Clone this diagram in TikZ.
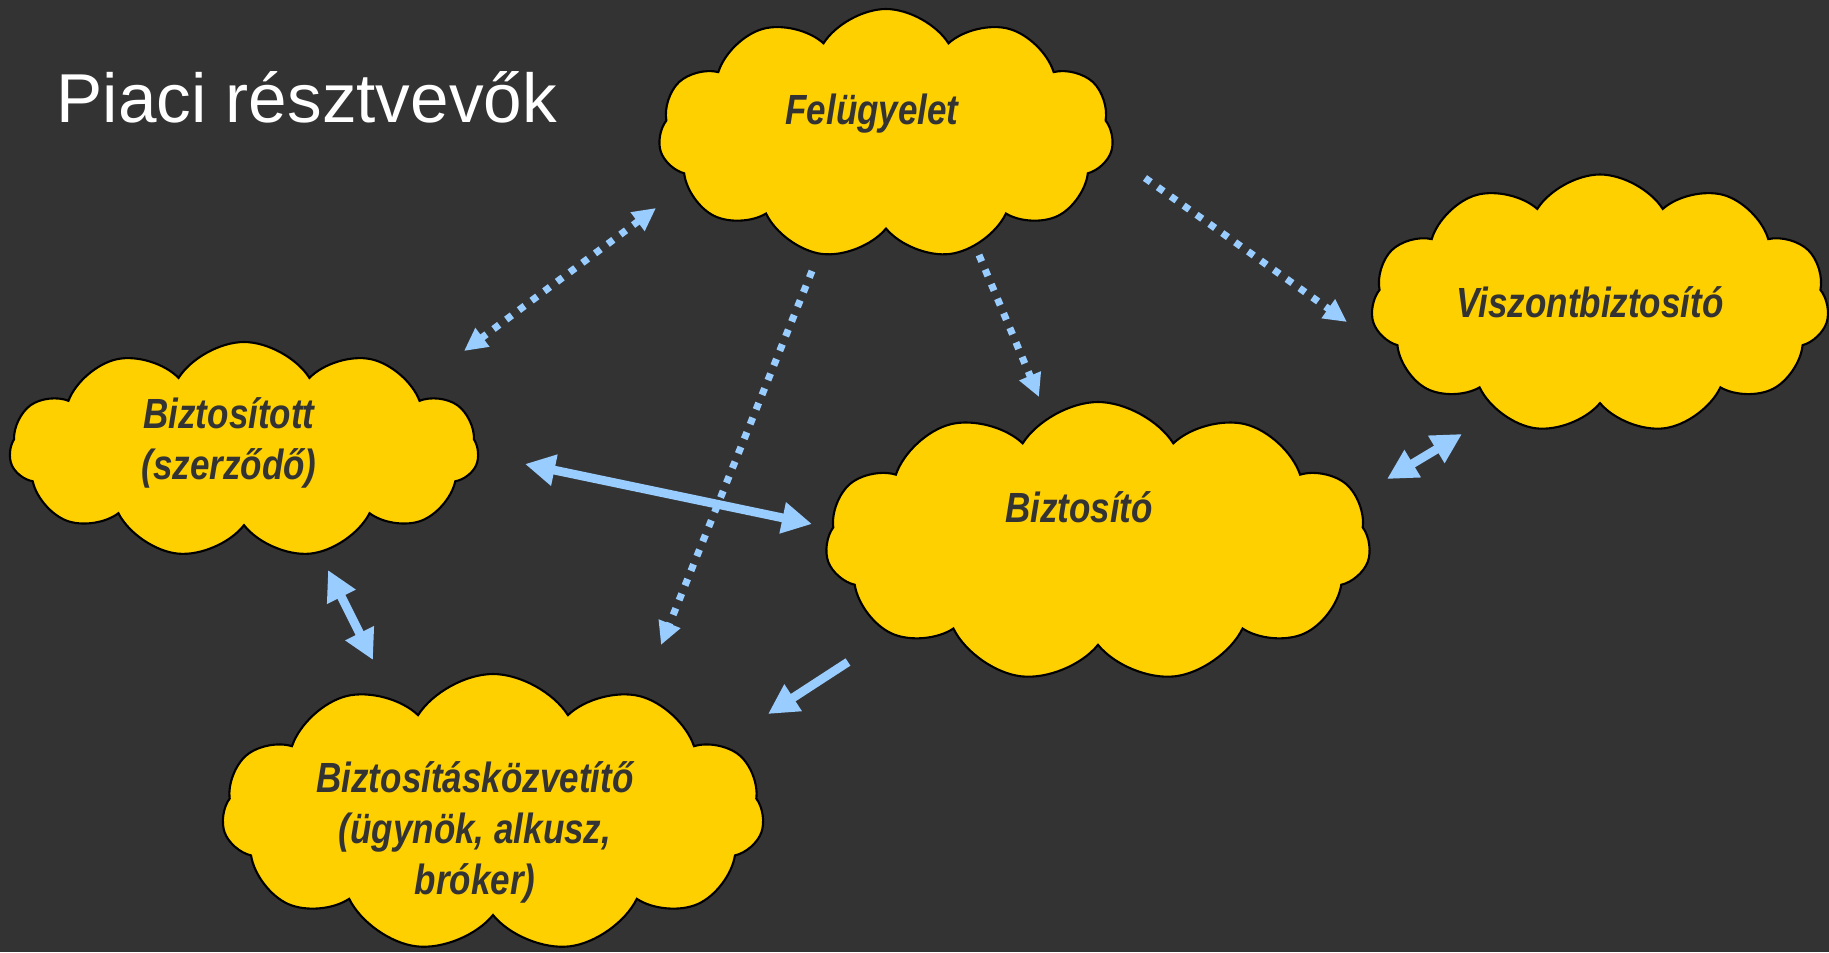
\documentclass[tikz,border=0pt]{standalone}
\usepackage{fontspec}
\setmainfont{Liberation Sans}
\newfontfamily\cloudfont{Liberation Sans}[FakeStretch=0.83]
\usetikzlibrary{shapes.symbols,arrows.meta}
\definecolor{bggray}{HTML}{333333}
\definecolor{cloudgold}{HTML}{FFD000}
\definecolor{arrowblue}{HTML}{99CCFF}
\definecolor{labelgray}{HTML}{333333}
% text that does not change the size of its cloud
\newcommand{\cloudlabel}[3]{\smash{\makebox[0pt]{\hspace*{#1}\raisebox{#2}{\begin{tabular}{@{}c@{}}#3\end{tabular}}}}}

\begin{document}
\begin{tikzpicture}[
  cloudbox/.style={cloud,cloud puffs=11,cloud puff arc=115,draw=black,line width=0.6pt,fill=cloudgold,
    text=labelgray,font=\cloudfont\bfseries\itshape\fontsize{12}{14.5}\selectfont,inner sep=0pt},
  solidarrow/.style={arrowblue,line width=2.5pt,-{Triangle[length=0.3cm,width=0.3cm]}},
  bothsolid/.style={solidarrow,{Triangle[length=0.3cm,width=0.3cm]}-{Triangle[length=0.3cm,width=0.3cm]}},
  dotarrow/.style={arrowblue,line width=2pt,dash pattern=on 2pt off 2.5pt,-{Triangle[length=0.23cm,width=0.22cm]}},
  bothdot/.style={dotarrow,{Triangle[length=0.23cm,width=0.22cm]}-{Triangle[length=0.23cm,width=0.22cm]}}
]
 \fill[bggray] (0,0) rectangle (18.29,-9.52);
 \useasboundingbox (0,0) rectangle (18.29,-9.52);
 \node[anchor=base west,inner sep=0pt,text=white,font=\fontsize{19.7}{24}\selectfont] (title) at (0.56,-1.22) {Piaci résztvevők};
 \node[cloudbox,minimum width=4.55cm,minimum height=2.50cm] (felugyelet) at (8.86,-1.34) {\cloudlabel{-0.28cm}{0.09cm}{Felügyelet}};
 \node[cloudbox,minimum width=4.58cm,minimum height=2.59cm] (viszont) at (16.0,-3.04) {\cloudlabel{-0.2cm}{-0.14cm}{Viszontbiztosító}};
 \node[cloudbox,minimum width=4.69cm,minimum height=2.16cm] (biztositott) at (2.44,-4.50) {\cloudlabel{-0.3cm}{-0.04cm}{Biztosított\\(szerződő)}};
 \node[cloudbox,minimum width=5.45cm,minimum height=2.80cm] (biztosito) at (10.98,-5.42) {\cloudlabel{-0.38cm}{0.19cm}{Biztosító}};
 \node[cloudbox,minimum width=5.42cm,minimum height=2.78cm] (kozvetito) at (4.93,-8.13) {\cloudlabel{-0.36cm}{-0.31cm}{Biztosításközvetítő\\(ügynök, alkusz,\\bróker)}};
 % felugyelet
 \draw[bothdot] ([shift={(-2.30,-0.74)}]felugyelet.center) -- ([shift={(2.20,0.99)}]biztositott.center);
 \draw[dotarrow] ([shift={(-0.74,-1.37)}]felugyelet.center) -- ([shift={(1.68,1.68)}]kozvetito.center);
 \draw[dotarrow] ([shift={(0.93,-1.21)}]felugyelet.center) -- ([shift={(-0.59,1.45)}]biztosito.center);
 \draw[dotarrow] ([shift={(2.59,-0.44)}]felugyelet.center) -- ([shift={(-2.53,-0.18)}]viszont.center);
 % piaci kapcsolatok
 \draw[bothsolid] ([shift={(2.81,-0.14)}]biztositott.center) -- ([shift={(-2.86,0.18)}]biztosito.center);
 \draw[bothsolid] ([shift={(0.84,-1.20)}]biztositott.center) -- ([shift={(-1.20,1.53)}]kozvetito.center);
 \draw[solidarrow] ([shift={(-2.50,-1.20)}]biztosito.center) -- ([shift={(2.75,0.99)}]kozvetito.center);
 \draw[bothsolid] ([shift={(2.89,0.63)}]biztosito.center) -- ([shift={(-1.38,-1.30)}]viszont.center);
\end{tikzpicture}
\end{document}
